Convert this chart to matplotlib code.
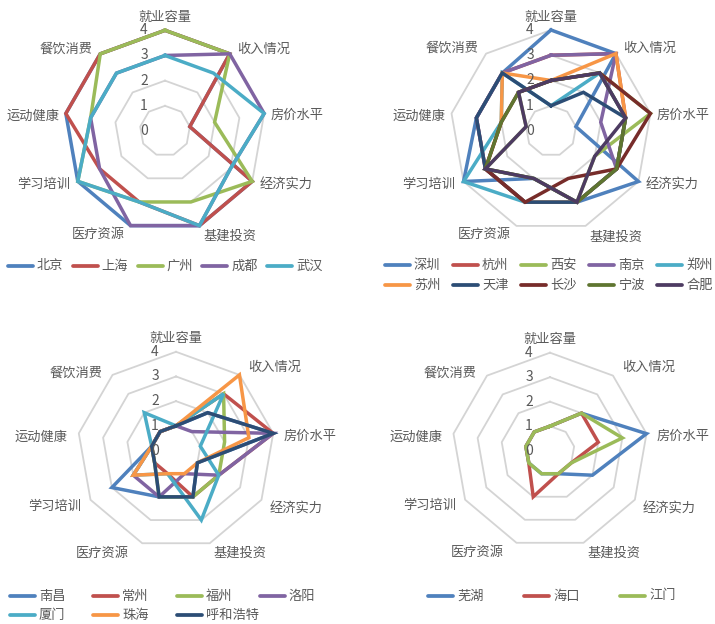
import numpy as np
import matplotlib.pyplot as plt
from matplotlib.lines import Line2D

plt.rcParams['font.family'] = ['Noto Sans CJK SC', 'DejaVu Sans']

# 九个维度，从正上方起顺时针
categories = ['就业容量', '收入情况', '房价水平', '经济实力', '基建投资',
              '医疗资源', '学习培训', '运动健康', '餐饮消费']

cities1 = ['北京', '上海', '广州', '成都', '武汉']
scores1 = [[4, 4, 1, 4, 4, 4, 4, 4, 4],
           [4, 4, 1, 4, 4, 3, 3, 4, 4],
           [4, 4, 2, 4, 3, 3, 4, 3, 4],
           [3, 4, 4, 3, 4, 4, 3, 3, 3],
           [3, 3, 4, 3, 4, 3, 4, 3, 3]]

cities2 = ['深圳', '杭州', '西安', '南京', '郑州', '苏州', '天津', '长沙', '宁波', '合肥']
scores2 = [[4, 4, 1, 4, 3, 2, 4, 3, 3],
           [3, 4, 3, 3, 3, 3, 3, 3, 3],
           [2, 3, 4, 2, 3, 2, 3, 1, 2],
           [3, 4, 2, 3, 3, 3, 3, 3, 3],
           [1, 3, 3, 3, 3, 3, 4, 2, 3],
           [2, 4, 3, 3, 3, 3, 3, 2, 3],
           [1, 2, 3, 3, 3, 3, 3, 3, 3],
           [2, 3, 4, 3, 2, 3, 3, 2, 2],
           [2, 3, 3, 3, 3, 2, 3, 2, 2],
           [2, 3, 3, 2, 3, 2, 3, 1, 2]]

cities3 = ['南昌', '常州', '福州', '洛阳', '厦门', '珠海', '呼和浩特']
scores3 = [[1, 2, 4, 1, 2, 2, 3, 1, 1],
           [1, 3, 4, 2, 2, 1, 1, 1, 1],
           [1, 3, 2, 2, 2, 2, 1, 1, 1],
           [1, 1, 4, 2, 1, 2, 2, 1, 1],
           [1, 3, 1, 2, 3, 1, 2, 1, 2],
           [1, 4, 3, 1, 1, 1, 2, 1, 1],
           [1, 2, 4, 1, 2, 2, 1, 1, 1]]

cities4 = ['芜湖', '海口', '江门']
scores4 = [[1, 2, 4, 2, 1, 1, 1, 1, 1],
           [1, 2, 2, 1, 1, 2, 1, 1, 1],
           [1, 2, 3, 1, 1, 1, 1, 1, 1]]

colors = ['#4F81BD', '#C0504D', '#9BBB59', '#8064A2', '#4BACC6',
          '#F79646', '#2C4D75', '#772C2A', '#5F7530', '#4D3B62']

TXT = '#595959'
W, H = 715, 624

# label offsets (pixels) for each axis, two variants
near = [(0, 13), (7, 5), (6, -2), (7, -4), (4, -11), (-6, -9), (-8, -3), (-6, -3), (-8, 5)]
far = [(0, 13), (9, 8), (10, -3), (8, -9), (4, -10), (-13, -10), (-9, -6), (-11, -4), (-10, 2)]

fig = plt.figure(figsize=(W / 100, H / 100), dpi=100)


def radar(cx, cy, R, cities, scores, offsets):
    ax = fig.add_axes([(cx - R) / W, 1 - (cy + R) / H, 2 * R / W, 2 * R / H], projection='polar')
    ax.set_theta_zero_location('N')
    ax.set_theta_direction(-1)
    ax.set_ylim(0, 4)
    ax.set_axis_off()

    n = len(categories)
    theta = np.arange(n) * 2 * np.pi / n
    closed = np.append(theta, theta[0])

    for r in range(1, 5):
        ax.plot(closed, [r] * (n + 1), color='#D4D4D4', lw=1.3, zorder=1, clip_on=False)
    for v in range(0, 5):
        ax.annotate(str(v), xy=(0, v), xytext=(-21, 0), textcoords='offset pixels',
                    ha='center', va='center', fontsize=10, color=TXT, annotation_clip=False)

    for i, vals in enumerate(scores):
        ax.plot(closed, vals + vals[:1], color=colors[i], lw=2.5, zorder=2 + i * 0.01,
                clip_on=False, solid_joinstyle='miter')

    for k, name in enumerate(categories):
        dx, dy = offsets[k]
        ha = 'center' if dx == 0 else ('left' if dx > 0 else 'right')
        ax.annotate(name, xy=(theta[k], 4), xytext=(dx, dy), textcoords='offset pixels',
                    ha=ha, va='center', fontsize=9.5, color=TXT, annotation_clip=False)


def legend(cities, x0, step, rows, ncol):
    for i, name in enumerate(cities):
        x = x0 + (i % ncol) * step
        y = 1 - rows[i // ncol] / H
        fig.add_artist(Line2D([x / W, (x + 25) / W], [y, y], transform=fig.transFigure,
                              color=colors[i], lw=2.7, solid_capstyle='round'))
        fig.text((x + 29) / W, y, name, ha='left', va='center', fontsize=9.5, color=TXT)


radar(165, 131, 100.7, cities1, scores1, near)
radar(551, 131, 101, cities2, scores2, near)
radar(176, 450.5, 98.7, cities3, scores3, far)
radar(550, 450.7, 98, cities4, scores4, far)

legend(cities1, 8, 64.8, [266], 5)
legend(cities2, 385, 68, [265, 285], 5)
legend(cities3, 10, 83.3, [596, 615], 4)
legend(cities4, 428, 96, [596], 3)

fig.savefig('out.png', dpi=100)
